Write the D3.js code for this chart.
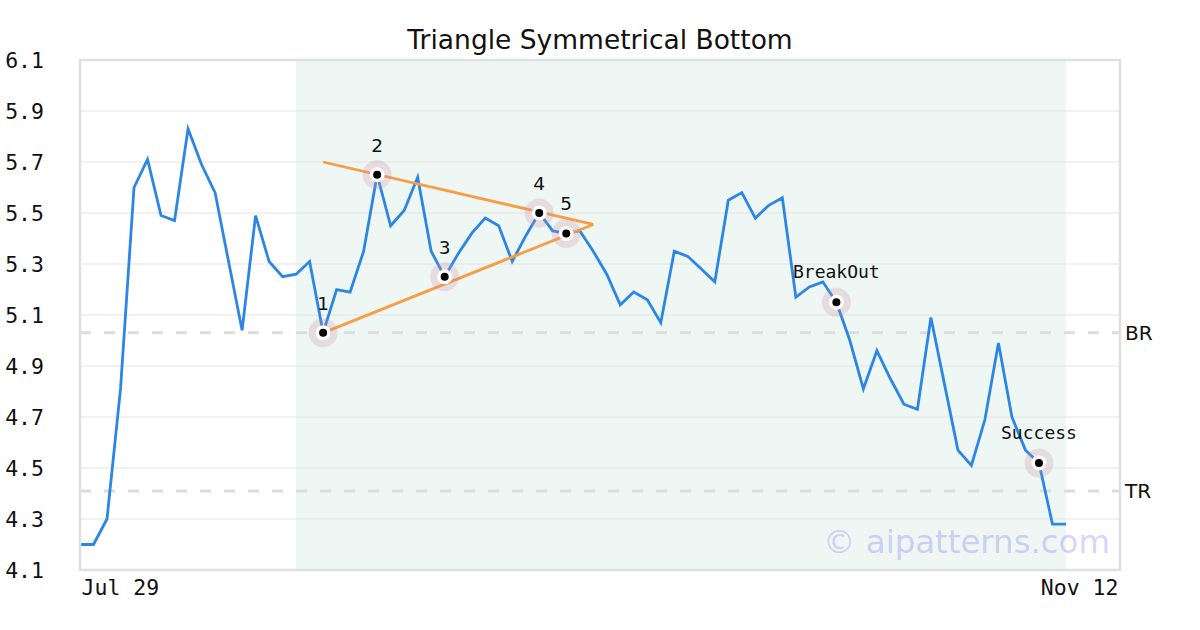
<!DOCTYPE html>
<html>
<head>
<meta charset="utf-8">
<script src="https://cdn.jsdelivr.net/npm/d3@7/dist/d3.min.js"></script>
<style>
  html, body { margin: 0; padding: 0; background: #fff; }
  svg { display: block; }
</style>
</head>
<body>
<svg id="chart" width="1200" height="630"></svg>
<script>
// ---- data ----
const title = "Triangle Symmetrical Bottom";
const prices = [
  4.20, 4.20, 4.30, 4.81, 5.60, 5.71, 5.49, 5.47, 5.83, 5.69,
  5.58, 5.31, 5.04, 5.49, 5.31, 5.25, 5.26, 5.31, 5.03, 5.20,
  5.19, 5.35, 5.65, 5.45, 5.51, 5.64, 5.35, 5.25, 5.34, 5.42,
  5.48, 5.45, 5.31, 5.41, 5.50, 5.43, 5.42, 5.43, 5.35, 5.26,
  5.14, 5.19, 5.16, 5.07, 5.35, 5.33, 5.28, 5.23, 5.55, 5.58,
  5.48, 5.53, 5.56, 5.17, 5.21, 5.23, 5.15, 5.00, 4.81, 4.96,
  4.85, 4.75, 4.73, 5.09, 4.83, 4.57, 4.51, 4.69, 4.99, 4.70,
  4.57, 4.52, 4.28, 4.28
];
const xTickLabels = ["Jul 29", "Nov 12"];
const yTicks = [4.1, 4.3, 4.5, 4.7, 4.9, 5.1, 5.3, 5.5, 5.7, 5.9, 6.1];
const patternIdx = [18, 22, 27, 34, 36];
const patternLabels = ["1", "2", "3", "4", "5"];
const eventIdx = [56, 71];
const eventLabels = ["BreakOut", "Success"];
const upperLine = [[18, 5.70], [38, 5.455]];
const lowerLine = [[18, 5.03], [38, 5.455]];
const levelNames = ["BR", "TR"];
const levelValues = [5.03, 4.41];
const shadeRange = [16, 73];
const xDomainMax = 77;
const watermark = "© aipatterns.com";

// ---- layout ----
const W = 1200, H = 630;
const m = { left: 80, right: 80, top: 60, bottom: 60 };
const svg = d3.select("#chart");
const x = d3.scaleLinear().domain([0, xDomainMax]).range([m.left, W - m.right]);
const y = d3.scaleLinear().domain([4.1, 6.1]).range([H - m.bottom, m.top]);
const mono = "'DejaVu Sans Mono', monospace";
const sans = "'DejaVu Sans', sans-serif";

// shaded pattern region
svg.append("rect")
  .attr("x", x(shadeRange[0])).attr("y", m.top)
  .attr("width", x(shadeRange[1]) - x(shadeRange[0]))
  .attr("height", H - m.bottom - m.top)
  .attr("fill", "#eff7f4");

// grid
svg.append("g").selectAll("line").data(yTicks).join("line")
  .attr("x1", m.left).attr("x2", W - m.right)
  .attr("y1", d => y(d)).attr("y2", d => y(d))
  .attr("stroke", "#e3e3e3").attr("stroke-width", 1);

// y axis labels
const yAxis = d3.axisLeft(y).tickValues(yTicks).tickFormat(d3.format(".1f")).tickSize(0).tickPadding(0);
const ya = svg.append("g").attr("transform", `translate(44,0)`).call(yAxis);
ya.select(".domain").remove();
ya.selectAll("text").attr("font-family", mono).attr("font-size", 21.5).attr("fill", "#111").attr("dy", "0.35em");

// x axis labels (at ends)
const xa = svg.append("g").attr("transform", `translate(0,${H - m.bottom})`)
  .call(d3.axisBottom(x).tickValues([0, xDomainMax]).tickFormat((d, i) => xTickLabels[i]).tickSize(0).tickPadding(0));
xa.select(".domain").remove();
xa.selectAll("text").attr("font-family", mono).attr("font-size", 21.5).attr("fill", "#111")
  .attr("dy", "0").attr("y", 25)
  .attr("dx", (d, i) => i === 0 ? 1 : -2)
  .attr("text-anchor", (d, i) => i === 0 ? "start" : "end");

// level lines
svg.append("g").selectAll("line").data(levelValues).join("line")
  .attr("x1", m.left).attr("x2", W - m.right)
  .attr("y1", d => y(d)).attr("y2", d => y(d))
  .attr("stroke", "#dddddd").attr("stroke-width", 3).attr("stroke-dasharray", "11,13");
svg.append("g").selectAll("text").data(levelValues).join("text")
  .attr("x", W - m.right + 5).attr("y", d => y(d)).attr("dy", "0.35em")
  .attr("font-family", sans).attr("font-size", 20).attr("fill", "#111")
  .text((d, i) => levelNames[i]);

// price line
svg.append("path").datum(prices)
  .attr("fill", "none").attr("stroke", "#2b86e6").attr("stroke-width", 2.8)
  .attr("stroke-linejoin", "miter")
  .attr("d", d3.line().x((d, i) => x(i)).y(d => y(d)));

// trend lines
[upperLine, lowerLine].forEach(l => {
  svg.append("path").datum(l)
    .attr("fill", "none").attr("stroke", "#f79d45").attr("stroke-width", 2.8)
    .attr("d", d3.line().x(d => x(d[0])).y(d => y(d[1])));
});

// markers
const allIdx = patternIdx.concat(eventIdx);
const mk = svg.append("g").selectAll("g").data(allIdx).join("g")
  .attr("transform", d => `translate(${x(d)},${y(prices[d])})`);
mk.append("circle").attr("r", 14.5).attr("fill", "rgba(205,140,160,0.25)");
mk.append("circle").attr("r", 7.5).attr("fill", "#fff");
mk.append("circle").attr("r", 4).attr("fill", "#000");

// pattern labels
svg.append("g").selectAll("text").data(patternIdx).join("text")
  .attr("x", d => x(d)).attr("y", d => y(prices[d]) - 23)
  .attr("text-anchor", "middle").attr("font-family", sans).attr("font-size", 18.5).attr("fill", "#111")
  .text((d, i) => patternLabels[i]);
svg.append("g").selectAll("text").data(eventIdx).join("text")
  .attr("x", d => x(d)).attr("y", d => y(prices[d]) - 24)
  .attr("text-anchor", "middle").attr("font-family", mono).attr("font-size", 18).attr("fill", "#111")
  .text((d, i) => eventLabels[i]);

// plot border
svg.append("rect")
  .attr("x", m.left).attr("y", m.top)
  .attr("width", W - m.left - m.right).attr("height", H - m.top - m.bottom)
  .attr("fill", "none").attr("stroke", "#e0e0e0").attr("stroke-width", 2.5);

// title
svg.append("text").attr("x", W / 2).attr("y", 49)
  .attr("text-anchor", "middle").attr("font-family", sans).attr("font-size", 26.5).attr("fill", "#111")
  .text(title);

// watermark
svg.append("text").attr("x", 1110).attr("y", 553)
  .attr("text-anchor", "end").attr("font-family", sans).attr("font-size", 32.4)
  .attr("fill", "rgba(110,110,245,0.3)")
  .text(watermark);
</script>
</body>
</html>
